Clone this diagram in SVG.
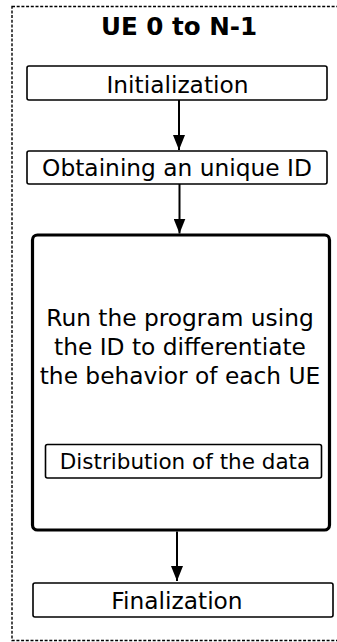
<svg xmlns="http://www.w3.org/2000/svg" width="337" height="642" viewBox="0 0 337 642">
  <style>
    text { font-family: "DejaVu Sans", "Liberation Sans", sans-serif; fill: #000; text-anchor: middle; }
    .title { font-size: 24.6px; font-weight: bold; }
    .lbl { font-size: 23.3px; }
    .box { fill: #fff; stroke: #000; stroke-width: 1.6; }
    .main { fill: #fff; stroke: #000; stroke-width: 3.2; }
    .edge { stroke: #000; stroke-width: 2; fill: none; marker-end: url(#head); }
  </style>
  <defs>
    <!-- arrowhead: 15 long along the line, 12 across -->
    <marker id="head" markerWidth="15" markerHeight="12" refX="15" refY="6" orient="auto" markerUnits="userSpaceOnUse" viewBox="0 0 15 12">
      <path d="M0,0 L15,6 L0,12 Z" fill="#000"/>
    </marker>
  </defs>

  <!-- dashed frame around the per-UE flow -->
  <g id="frame">
    <rect x="12" y="6.5" width="340" height="634" fill="#fff" stroke="#000" stroke-width="1.4" stroke-dasharray="3,1.7"/>
    <text class="title" x="179" y="35">UE 0 to N-1</text>
  </g>

  <g id="init">
    <rect class="box" x="27" y="66" width="300" height="34" rx="2"/>
    <text class="lbl" x="177.5" y="92.5">Initialization</text>
  </g>

  <g id="obtain-id">
    <rect class="box" x="27" y="151" width="300" height="33" rx="2"/>
    <text class="lbl" x="177" y="176">Obtaining an unique ID</text>
  </g>

  <g id="run">
    <rect class="main" x="32.5" y="235" width="297" height="295" rx="5"/>
    <text class="lbl" x="180" y="326">Run the program using</text>
    <text class="lbl" x="180" y="355">the ID to differentiate</text>
    <text class="lbl" x="180" y="383.5">the behavior of each UE</text>
  </g>

  <g id="distribution">
    <rect class="box" x="45.5" y="444.5" width="276" height="33.5" rx="2"/>
    <text class="lbl" x="185" y="469" style="font-size:21.5px">Distribution of the data</text>
  </g>

  <g id="final">
    <rect class="box" x="33" y="583" width="300" height="34" rx="2"/>
    <text class="lbl" x="177" y="609">Finalization</text>
  </g>

  <g id="connectors">
    <line class="edge" x1="179" y1="100" x2="179" y2="150"/>
    <line class="edge" x1="179.5" y1="184" x2="179.5" y2="233.5"/>
    <line class="edge" x1="177" y1="531.5" x2="177" y2="581"/>
  </g>
</svg>
